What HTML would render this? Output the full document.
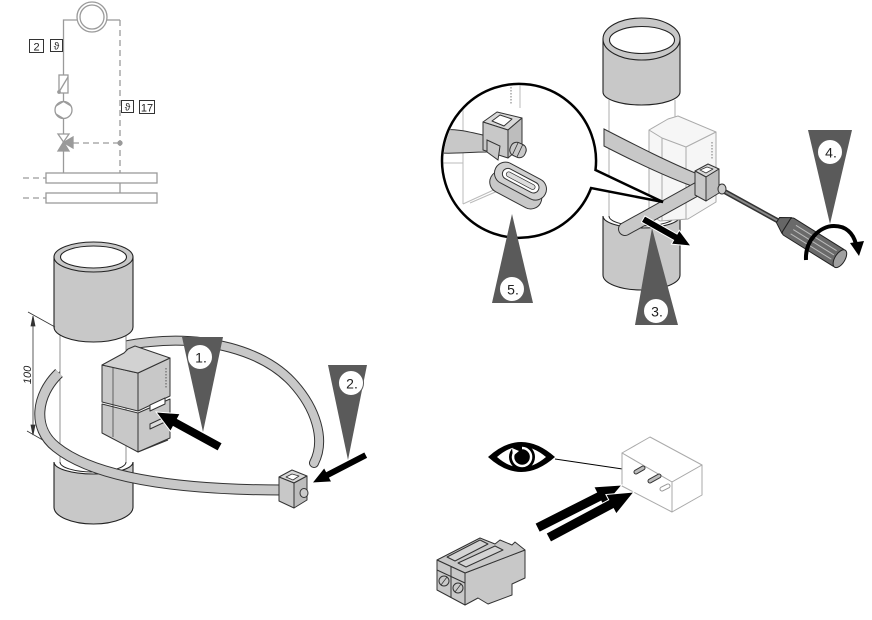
<!DOCTYPE html>
<html><head><meta charset="utf-8"><style>
html,body{margin:0;padding:0;background:#fff}
svg{display:block}
text{font-family:"Liberation Sans",sans-serif}
</style></head><body>
<svg width="872" height="620" viewBox="0 0 872 620" xmlns="http://www.w3.org/2000/svg">
<rect width="872" height="620" fill="#fff"/>

<!-- ============ Schematic (top-left) ============ -->
<g stroke="#9a9a9a" stroke-width="1.3" fill="none">
  <polyline points="77,20 63.5,20 63.5,134"/>
  <line x1="107" y1="20" x2="120" y2="20"/>
  <line x1="120" y1="20" x2="120" y2="173" stroke-dasharray="6,4"/>
  <circle cx="92" cy="17" r="15" fill="#fff"/>
  <circle cx="92" cy="17" r="12"/>
  <rect x="59" y="75" width="9" height="18" fill="#fff"/>
  <line x1="59" y1="92" x2="68" y2="77"/>
  <circle cx="59" cy="92" r="1.2" fill="#9a9a9a"/>
  <circle cx="63.5" cy="110" r="8.5" fill="#fff"/>
  <polyline points="56,106 63.5,101.5 71,106"/>
  <polyline points="56,114 63.5,118.5"/>
  <polygon points="58,134 69,134 63.5,142" fill="#fff"/>
  <polygon points="58,151 69,151 63.5,142" fill="#9a9a9a"/>
  <polygon points="73,137 73,148 63.5,142.5" fill="#9a9a9a"/>
  <line x1="73" y1="143" x2="120" y2="143" stroke-dasharray="6,4"/>
  <circle cx="120" cy="143" r="2" fill="#9a9a9a"/>
  <line x1="63.5" y1="151" x2="63.5" y2="173"/>
  <rect x="46" y="173" width="111" height="10" fill="#fff"/>
  <rect x="46" y="193" width="111" height="10" fill="#fff"/>
  <line x1="120" y1="183" x2="120" y2="193"/>
  <line x1="23" y1="178" x2="46" y2="178" stroke-dasharray="6,4"/>
  <line x1="23" y1="198" x2="46" y2="198" stroke-dasharray="6,4"/>
</g>
<g stroke="#333" fill="#fff" stroke-width="1">
  <rect x="29.5" y="39.5" width="14" height="13"/>
  <rect x="50.5" y="39.5" width="12" height="12"/>
  <rect x="121.5" y="100.5" width="12" height="12"/>
  <rect x="139.5" y="100.5" width="15" height="13"/>
</g>
<g fill="#222" font-size="11" text-anchor="middle">
  <text x="36.5" y="50.5">2</text>
  <text x="56.5" y="49.5" font-size="10">ϑ</text>
  <text x="127.5" y="110.5" font-size="10">ϑ</text>
  <text x="147" y="111.5">17</text>
</g>

<!-- ============ Bottom-left figure ============ -->
<path d="M62,376 C80,356 110,346 150,342 C205,336 262,350 292,382 C316,408 326,440 314,463" stroke="#333" stroke-width="10" fill="none" stroke-linecap="round"/>
<path d="M62,376 C80,356 110,346 150,342 C205,336 262,350 292,382 C316,408 326,440 314,463" stroke="#c8c8c8" stroke-width="8" fill="none" stroke-linecap="round"/>
<path d="M54,462 L54,507 A39.5,17 0 0 0 133,507 L133,462 A39.5,12 0 0 1 54,462 Z" fill="#c8c8c8" stroke="#222" stroke-width="1.1"/>
<path d="M60,320 L60,462 A33,10 0 0 0 126,462 L126,320 Z" fill="#fff" stroke="none"/>
<line x1="60" y1="330" x2="60" y2="462" stroke="#777" stroke-width="0.8"/>
<line x1="126" y1="330" x2="126" y2="462" stroke="#777" stroke-width="0.8"/>
<path d="M60,462 A33,10 0 0 0 126,462" fill="none" stroke="#222" stroke-width="1"/>
<path d="M54,257 L54,327 A39.5,15 0 0 0 133,327 L133,257 Z" fill="#c8c8c8" stroke="#222" stroke-width="1.1"/>
<ellipse cx="93.5" cy="257" rx="39.5" ry="15" fill="#c8c8c8" stroke="#222" stroke-width="1.1"/>
<ellipse cx="93.5" cy="257" rx="33" ry="11" fill="#fff" stroke="#222" stroke-width="1.1"/>
<g stroke="#333" stroke-width="0.8" fill="#333">
  <line x1="28" y1="312" x2="55" y2="327"/>
  <line x1="27" y1="431" x2="55" y2="447"/>
  <line x1="33" y1="318" x2="33" y2="433"/>
  <polygon points="31,326 35,326 33,316"/>
  <polygon points="31,425 35,425 33,435"/>
</g>
<text transform="translate(31,375) rotate(-90)" text-anchor="middle" font-style="italic" font-size="11" fill="#222">100</text>
<g stroke="#333" stroke-width="1" stroke-linejoin="round">
  <polygon points="102,404 138,413 138,452 102,433" fill="#c8c8c8"/>
  <polygon points="138,413 170,399 170,438 138,452" fill="#c8c8c8"/>
  <polygon points="102,365 138,373 138,411 102,402" fill="#c8c8c8"/>
  <polygon points="138,373 170,358 170,396 138,411" fill="#c8c8c8"/>
  <polygon points="102,365 124,353 128,349 135,346 170,358 138,373" fill="#d2d2d2"/>
  <line x1="113" y1="368" x2="113" y2="437" stroke-width="0.7"/>
  <polygon points="150,405 165,398 165,404 150,411" fill="#fff"/>
  <polygon points="150,424 165,417 165,422 150,429" fill="#ddd"/>
  <line x1="138" y1="452" x2="168" y2="440"/>
</g>
<line x1="166" y1="368" x2="166" y2="388" stroke="#555" stroke-width="1" stroke-dasharray="1.5,1.5"/>
<path d="M59,373 C36,395 32,428 56,447 C92,476 170,490 283,490" stroke="#333" stroke-width="11" fill="none"/>
<path d="M59,373 C36,395 32,428 56,447 C92,476 170,490 283,490" stroke="#c8c8c8" stroke-width="9" fill="none"/>
<g stroke="#333" stroke-width="1" stroke-linejoin="round">
  <polygon points="279,477 292,470 307,476 294,483" fill="#d8d8d8"/>
  <polygon points="279,477 294,483 294,508 279,501" fill="#c8c8c8"/>
  <polygon points="294,483 307,476 307,500 294,508" fill="#bdbdbd"/>
  <polygon points="286,477 292,474 299,476 293,480" fill="#fff" stroke-width="0.8"/>
  <ellipse cx="304" cy="493" rx="4" ry="4.5" fill="#ccc"/>
</g>
<polygon points="182,337 223,337 203,432" fill="#5a5a5a"/>
<circle cx="200" cy="357" r="12.5" fill="#fff" stroke="#5a5a5a" stroke-width="1"/>
<text x="201" y="362.5" font-size="14" text-anchor="middle" fill="#222">1.</text>
<polygon points="328,365 367,365 348,460" fill="#5a5a5a"/>
<circle cx="351" cy="383" r="12.5" fill="#fff" stroke="#5a5a5a" stroke-width="1"/>
<text x="352" y="388.5" font-size="14" text-anchor="middle" fill="#222">2.</text>
<polygon transform="translate(156,412) rotate(208.7)" points="0,0 -22,-10 -22,-4.5 -73,-4.5 -73,4.5 -22,4.5 -22,10" fill="#000" stroke="#fff" stroke-width="1"/>
<polygon transform="translate(312,483) rotate(152.6)" points="0,0 -18,-8 -18,-3.5 -61,-3.5 -61,3.5 -18,3.5 -18,8" fill="#000" stroke="#fff" stroke-width="1"/>

<!-- ============ Top-right figure ============ -->
<path d="M603,216 L603,275 A38.5,15 0 0 0 680,275 L680,216 A38.5,12 0 0 1 603,216 Z" fill="#c8c8c8" stroke="#222" stroke-width="1.1"/>
<path d="M609,90 L609,216 A33,10 0 0 0 675,216 L675,90 Z" fill="#fff"/>
<line x1="609" y1="100" x2="609" y2="216" stroke="#999" stroke-width="0.8"/>
<line x1="675" y1="100" x2="675" y2="216" stroke="#999" stroke-width="0.8"/>
<path d="M609,216 A33,10 0 0 0 675,216" fill="none" stroke="#222"/>
<path d="M603,39 L603,92 A38.5,13 0 0 0 680,92 L680,39 Z" fill="#c8c8c8" stroke="#222" stroke-width="1.1"/>
<ellipse cx="641.5" cy="39" rx="38.5" ry="21" fill="#c8c8c8" stroke="#222" stroke-width="1.1"/>
<ellipse cx="642" cy="40" rx="32.5" ry="13.5" fill="#fff" stroke="#222" stroke-width="1.1"/>
<g stroke="#aaa" stroke-width="1" fill="#f6f6f6" stroke-linejoin="round">
  <polygon points="649,130 668,119 678,116 716,132 716,202 688,219 660,221 649,214"/>
  <polyline points="662,138 686,147 716,132" fill="none"/>
  <line x1="649" y1="130" x2="662" y2="138"/>
  <line x1="662" y1="138" x2="662" y2="221"/>
  <line x1="686" y1="147" x2="686" y2="219"/>
</g>
<line x1="712" y1="142" x2="712" y2="160" stroke="#777" stroke-width="1" stroke-dasharray="1.5,1.5"/>
<path d="M604,129 C635,145 668,162 700,175 L700,189 C668,178 635,162 604,146 Z" fill="#c8c8c8" stroke="#333" stroke-width="1"/>
<line x1="699" y1="188" x2="625" y2="229" stroke="#333" stroke-width="14" stroke-linecap="round"/>
<line x1="699" y1="188" x2="625" y2="229" stroke="#c8c8c8" stroke-width="12" stroke-linecap="round"/>
<g stroke="#333" stroke-width="1" stroke-linejoin="round">
  <polygon points="695,171 708,164 719,169 706,177" fill="#d8d8d8"/>
  <polygon points="695,171 706,177 706,201 695,195" fill="#c8c8c8"/>
  <polygon points="706,177 719,169 719,193 706,201" fill="#bdbdbd"/>
  <polygon points="700,170 707,167 713,169 706,173" fill="#fff" stroke-width="0.8"/>
</g>
<line x1="720" y1="189" x2="780" y2="222" stroke="#333" stroke-width="5" stroke-linecap="round"/>
<line x1="720" y1="189" x2="780" y2="222" stroke="#888" stroke-width="2"/>
<ellipse cx="722" cy="189" rx="4" ry="5" fill="#ccc" stroke="#333"/>
<g transform="translate(778,220) rotate(32)">
  <path d="M0,-3 L10,-9 L10,9 L0,3 Z" fill="#666" stroke="#222"/>
  <rect x="10" y="-10" width="64" height="20" rx="3" fill="#6a6a6a" stroke="#222"/>
  <line x1="18" y1="-5" x2="66" y2="-5" stroke="#bbb" stroke-width="1"/>
  <line x1="18" y1="0" x2="66" y2="0" stroke="#bbb" stroke-width="1"/>
  <line x1="18" y1="5" x2="66" y2="5" stroke="#bbb" stroke-width="1"/>
  <ellipse cx="73" cy="0" rx="5" ry="10" fill="#a0a0a0" stroke="#222"/>
</g>
<path d="M806,260 C805,240 820,226 834,226 C846,226 853,233 856,244" fill="none" stroke="#000" stroke-width="4"/>
<polygon points="850,243 864,241 859,256" fill="#000"/>
<path d="M595.5,170 L663,202 L591.1,188 A77,77 0 1 1 595.5,170 Z" fill="#fff" stroke="#000" stroke-width="2.5" stroke-linejoin="miter"/>
<defs><clipPath id="mc"><circle cx="519" cy="161" r="75.5"/></clipPath></defs>
<g clip-path="url(#mc)">
  <g stroke="#bbb" stroke-width="1" fill="none">
    <line x1="463" y1="100" x2="463" y2="204"/>
    <polyline points="443,163 463,163"/>
    <polyline points="463,204 498,188"/>
    <line x1="520" y1="76" x2="520" y2="108"/>
    <line x1="470" y1="203" x2="500" y2="190"/>
  </g>
  <line x1="511" y1="84" x2="511" y2="104" stroke="#777" stroke-width="1" stroke-dasharray="1.5,1.5"/>
  <path d="M440,130 C455,128 470,132 487,136 L487,152 C470,152 455,154 440,153 Z" fill="#c8c8c8" stroke="#333"/>
  <g stroke="#333" stroke-width="1" stroke-linejoin="round">
    <polygon points="483,122 497,112 522,118 508,130" fill="#d8d8d8"/>
    <polygon points="483,122 508,130 508,158 483,150" fill="#c8c8c8"/>
    <polygon points="508,130 522,118 522,146 508,158" fill="#bdbdbd"/>
    <polygon points="492,121 500,115 512,119 504,126" fill="#fff"/>
  </g>
  <g transform="translate(518,150) rotate(25)">
    <rect x="-8" y="-7" width="16" height="14" rx="6" fill="#c8c8c8" stroke="#333"/>
    <line x1="-3" y1="-7" x2="-3" y2="7" stroke="#333" stroke-width="0.8"/>
    <line x1="2" y1="-7" x2="2" y2="7" stroke="#333" stroke-width="0.8"/>
  </g>
  <polygon points="487,140 500,146 498,160 487,152" fill="#c8c8c8" stroke="#333"/>
  <g transform="translate(520,182) rotate(28)">
    <rect x="-28" y="-2" width="56" height="22" rx="11" fill="#c8c8c8" stroke="#333"/>
    <rect x="-28" y="-12" width="56" height="22" rx="11" fill="#d0d0d0" stroke="#333"/>
    <rect x="-20" y="-7" width="40" height="11" rx="5.5" fill="#fff" stroke="#333"/>
    <rect x="-16" y="-4" width="32" height="5" rx="2.5" fill="#ddd" stroke="#333" stroke-width="0.7"/>
  </g>
</g>
<polygon points="635,325 678,325 652,228" fill="#5a5a5a"/>
<circle cx="656" cy="311" r="12.5" fill="#fff" stroke="#5a5a5a"/>
<text x="657" y="316.5" font-size="14" text-anchor="middle" fill="#222">3.</text>
<polygon points="808,130 852,130 830,224" fill="#5a5a5a"/>
<circle cx="830" cy="152" r="12.5" fill="#fff" stroke="#5a5a5a"/>
<text x="831" y="157.5" font-size="14" text-anchor="middle" fill="#222">4.</text>
<polygon points="492,303 533,303 512,214" fill="#5a5a5a"/>
<circle cx="512" cy="289" r="12.5" fill="#fff" stroke="#5a5a5a"/>
<text x="513" y="294.5" font-size="14" text-anchor="middle" fill="#222">5.</text>
<polygon transform="translate(691,246) rotate(29.4)" points="0,0 -18,-8 -18,-3.5 -55,-3.5 -55,3.5 -18,3.5 -18,8" fill="#000" stroke="#fff" stroke-width="1"/>

<!-- ============ Bottom-right figure ============ -->
<path d="M488,457 Q521,427 555,457 Q521,487 488,457 Z" fill="#000"/>
<path d="M497,457 Q521,436 546,457 Q521,478 497,457 Z" fill="#fff"/>
<circle cx="522" cy="457" r="13" fill="#000"/>
<path d="M522,448 A9,9 0 1 1 514,453" fill="none" stroke="#fff" stroke-width="2.5"/>
<polygon points="512,448 519,451 513,456" fill="#fff"/>
<circle cx="522" cy="457" r="5" fill="#000"/>
<line x1="555" y1="459" x2="636" y2="471" stroke="#000" stroke-width="1"/>
<g stroke="#aaa" stroke-width="1" fill="#fff" stroke-linejoin="round">
  <polygon points="622,453 650,437 702,465 672,482"/>
  <polygon points="622,453 672,482 672,512 622,486"/>
  <polygon points="672,482 702,465 702,495 672,512"/>
</g>
<g stroke="#333" stroke-width="1" stroke-linecap="round">
  <line x1="636" y1="472" x2="643" y2="468" stroke-width="5"/>
  <line x1="636" y1="472" x2="643" y2="468" stroke="#bbb" stroke-width="3"/>
  <line x1="650" y1="481" x2="659" y2="476" stroke-width="5"/>
  <line x1="650" y1="481" x2="659" y2="476" stroke="#bbb" stroke-width="3"/>
</g>
<line x1="662" y1="489" x2="668" y2="486" stroke="#999" stroke-width="5" stroke-linecap="round"/>
<line x1="662" y1="489" x2="668" y2="486" stroke="#fff" stroke-width="3" stroke-linecap="round"/>
<polygon transform="translate(622,485) rotate(-26.8)" points="0,0 -26,-11 -26,-5 -95,-5 -95,5 -26,5 -26,11" fill="#000" stroke="#fff" stroke-width="1"/>
<polygon transform="translate(634,492) rotate(-28.1)" points="0,0 -26,-11 -26,-5 -97,-5 -97,5 -26,5 -26,11" fill="#000" stroke="#fff" stroke-width="1"/>
<g stroke="#333" stroke-width="1" fill="#c8c8c8" stroke-linejoin="round">
  <polygon points="465,573 525,550 525,578 512,584 512,595 488,604 478,598 465,605"/>
  <polygon points="437,560 480,538 495,544 500,540 512,545 515,542 525,550 465,573"/>
  <polygon points="437,560 465,573 465,605 437,590"/>
  <polygon points="447,557 480,540 488,544 455,561" fill="#d4d4d4"/>
  <polygon points="458,563 495,546 503,550 466,567" fill="#d4d4d4"/>
  <line x1="451" y1="567" x2="451" y2="598"/>
  <line x1="437" y1="570" x2="465" y2="583"/>
  <circle cx="444" cy="581" r="5" fill="#c8c8c8"/>
  <circle cx="458" cy="588" r="5" fill="#c8c8c8"/>
  <line x1="441" y1="585" x2="447" y2="577" stroke-width="0.7"/>
  <line x1="455" y1="592" x2="461" y2="584" stroke-width="0.7"/>
</g>
</svg>
</body></html>
